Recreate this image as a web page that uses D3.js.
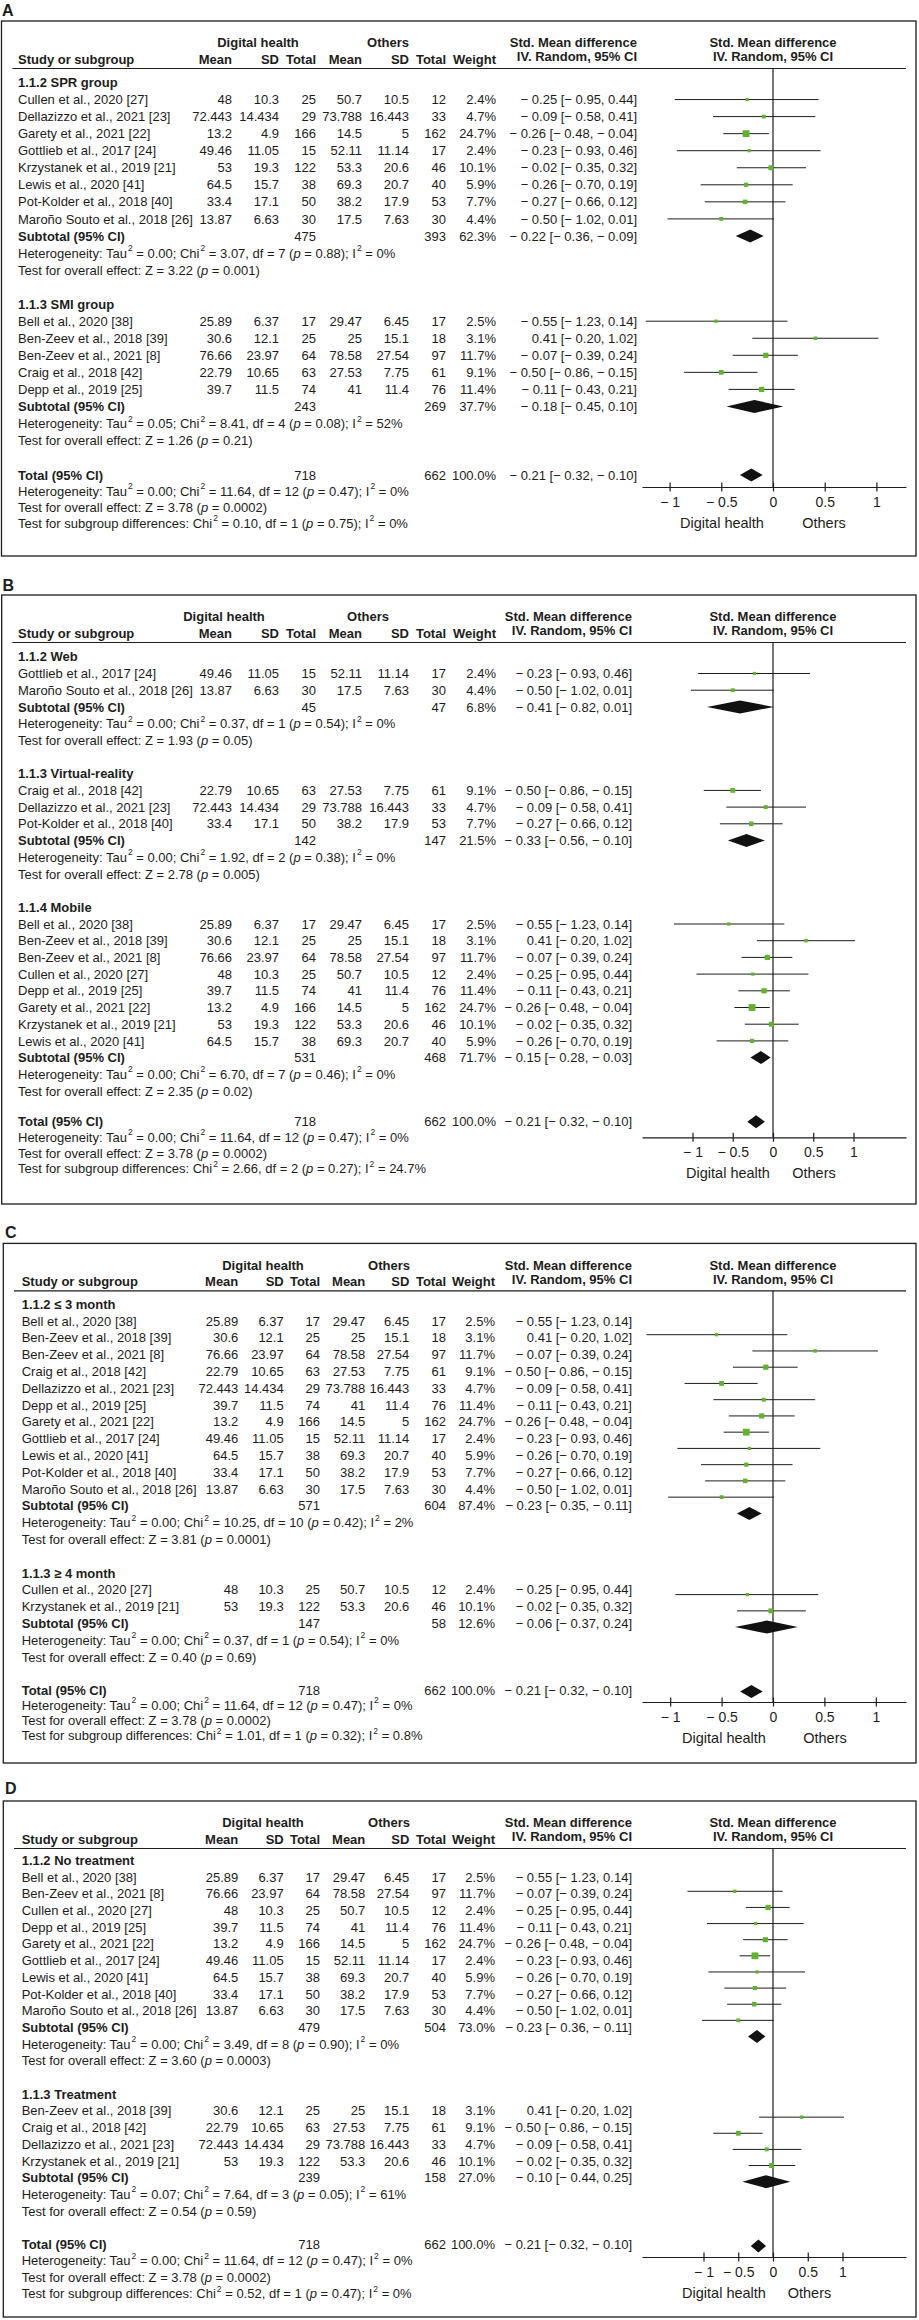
<!DOCTYPE html>
<html><head><meta charset="utf-8">
<script src="https://cdn.jsdelivr.net/npm/d3@7"></script>
<style>
body{margin:0;background:#fff}
svg{display:block}
text{font-family:"Liberation Sans",Arial,Helvetica,sans-serif;fill:#1d1d1b}
</style>
</head><body>
<svg id="chart" width="919" height="2320"></svg>
<script>
// ---------------- DATA ----------------
const studyNames = ["Bell et al., 2020 [38]","Ben-Zeev et al., 2018 [39]","Ben-Zeev et al., 2021 [8]","Craig et al., 2018 [42]","Cullen et al., 2020 [27]","Dellazizzo et al., 2021 [23]","Depp et al., 2019 [25]","Garety et al., 2021 [22]","Gottlieb et al., 2017 [24]","Krzystanek et al., 2019 [21]","Lewis et al., 2020 [41]","Pot-Kolder et al., 2018 [40]","Maroño Souto et al., 2018 [26]"];
const dhMean  = [25.89, 30.6, 76.66, 22.79, 48, 72.443, 39.7, 13.2, 49.46, 53, 64.5, 33.4, 13.87];
const dhSD    = [6.37, 12.1, 23.97, 10.65, 10.3, 14.434, 11.5, 4.9, 11.05, 19.3, 15.7, 17.1, 6.63];
const dhTotal = [17, 25, 64, 63, 25, 29, 74, 166, 15, 122, 38, 50, 30];
const otMean  = [29.47, 25, 78.58, 27.53, 50.7, 73.788, 41, 14.5, 52.11, 53.3, 69.3, 38.2, 17.5];
const otSD    = [6.45, 15.1, 27.54, 7.75, 10.5, 16.443, 11.4, 5, 11.14, 20.6, 20.7, 17.9, 7.63];
const otTotal = [17, 18, 97, 61, 12, 33, 76, 162, 17, 46, 40, 53, 30];
const studyWeight = [2.5, 3.1, 11.7, 9.1, 2.4, 4.7, 11.4, 24.7, 2.4, 10.1, 5.9, 7.7, 4.4];
const studySMD  = [-0.55, 0.41, -0.07, -0.50, -0.25, -0.09, -0.11, -0.26, -0.23, -0.02, -0.26, -0.27, -0.50];
const studyLow  = [-1.23, -0.20, -0.39, -0.86, -0.95, -0.58, -0.43, -0.48, -0.93, -0.35, -0.70, -0.66, -1.02];
const studyHigh = [0.14, 1.02, 0.24, -0.15, 0.44, 0.41, 0.21, -0.04, 0.46, 0.32, 0.19, 0.12, 0.01];

const panelLetters = ["A","B","C","D"];
const subgroupTitles = [["1.1.2 SPR group","1.1.3 SMI group"],["1.1.2 Web","1.1.3 Virtual-reality","1.1.4 Mobile"],["1.1.2 \u2264 3 month","1.1.3 \u2265 4 month"],["1.1.2 No treatment","1.1.3 Treatment"]];
const subgroupStudies = [[[4,5,7,8,9,10,11,12],[0,1,2,3,6]],[[8,12],[3,5,11],[0,1,2,4,6,7,9,10]],[[0,1,2,3,5,6,7,8,10,11,12],[4,9]],[[0,2,4,6,7,8,10,11,12],[1,3,5,9]]];
const subgroupDhTotal = [[475,243],[45,142,531],[571,147],[479,239]];
const subgroupOtTotal = [[393,269],[47,147,468],[604,58],[504,158]];
const subgroupWeight = [[62.3,37.7],[6.8,21.5,71.7],[87.4,12.6],[73.0,27.0]];
const subgroupSMD  = [[-0.22,-0.18],[-0.41,-0.33,-0.15],[-0.23,-0.06],[-0.23,-0.10]];
const subgroupLow  = [[-0.36,-0.45],[-0.82,-0.56,-0.28],[-0.35,-0.37],[-0.36,-0.44]];
const subgroupHigh = [[-0.09,0.10],[0.01,-0.10,-0.03],[-0.11,0.24],[-0.11,0.25]];
const subgroupTau2 = [[0.00,0.05],[0.00,0.00,0.00],[0.00,0.00],[0.00,0.07]];
const subgroupChi2 = [[3.07,8.41],[0.37,1.92,6.70],[10.25,0.37],[3.49,7.64]];
const subgroupDf   = [[7,4],[1,2,7],[10,1],[8,3]];
const subgroupHetP = [[0.88,0.08],[0.54,0.38,0.46],[0.42,0.54],[0.90,0.05]];
const subgroupI2   = [[0,52],[0,0,0],[2,0],[0,61]];
const subgroupZ    = [[3.22,1.26],[1.93,2.78,2.35],[3.81,0.40],[3.60,0.54]];
const subgroupZP   = [[0.001,0.21],[0.05,0.005,0.02],[0.0001,0.69],[0.0003,0.59]];

const overallDh = 718, overallOt = 662, overallWeight = 100.0;
const overallSMD = -0.21, overallLow = -0.32, overallHigh = -0.10;
const overallTau2 = 0.00, overallChi2 = 11.64, overallDf = 12, overallHetP = 0.47, overallI2 = 0;
const overallZ = 3.78, overallZP = 0.0002;
const diffChi2 = [0.10, 2.66, 1.01, 0.52];
const diffDf   = [1, 2, 1, 1];
const diffP    = [0.75, 0.27, 0.32, 0.47];
const diffI2   = [0, 24.7, 0.8, 0];

const tickValues = [-1, -0.5, 0, 0.5, 1];
const tickLabels = ["\u2212 1", "\u2212 0.5", "0", "0.5", "1"];
const axisSideLabels = ["Digital health", "Others"];

// ---------------- LAYOUT ----------------
const colsAB = [232, 279, 316, 362, 409, 446, 496];
const colsCD = [238.3, 283.7, 320, 365.3, 409.3, 446, 495];
const layout = [
  {top:21, bottom:556, labelX:2, labelY:10, boxLeft:1.5, lineLeft:12.3, studyX:18, cols:colsAB, dhC:258, otC:388, ciRight:637,
   first:82.5, step:17.05, totalY:475, step2:16, axisY:487, ppu:103.4, sideX:[722,824], drift:[0,0]},
  {top:595, bottom:1204, labelX:2.5, labelY:585, boxLeft:1.7, lineLeft:12.3, studyX:18, cols:colsAB, dhC:224, otC:368, ciRight:632,
   first:656.8, step:16.7, totalY:1121.7, step2:15.6, axisY:1137.3, ppu:80.5, sideX:[728,814], drift:[0,0]},
  {top:1243.4, bottom:1763, labelX:5, labelY:1232, boxLeft:3.3, lineLeft:14, studyX:21.7, cols:colsCD, dhC:263, otC:389, ciRight:632,
   first:1304.1, step:16.8, totalY:1690, step2:15.2, axisY:1702, ppu:102.8, sideX:[724,825], drift:[13.8,1.6]},
  {top:1801, bottom:2317, labelX:5, labelY:1788, boxLeft:3.3, lineLeft:14, studyX:21.7, cols:colsCD, dhC:263, otC:389, ciRight:632,
   first:1860.3, step:16.7, totalY:2244.2, step2:16.4, axisY:2257, ppu:69.5, sideX:[724,809.5], drift:[14.3,1.8]}
];
const ZERO_X = 773, AXIS_L = 642, AXIS_R = 906, BOX_R = 916;
const INK = "#1d1d1b", GREEN = "#62b22f";
const BASE = 4.6; // center -> baseline

const svg = d3.select("#chart");
const sizeScale = d3.scalePow().exponent(0.5).domain([0, 25]).range([1.6, 6.85]);

function fmtSigned(v){ return v < 0 ? "\u2212 " + Math.abs(v).toFixed(2) : v.toFixed(2); }
function ciText(m, l, h){ return `${fmtSigned(m)} [${fmtSigned(l)}, ${fmtSigned(h)}]`; }

function richText(parent, x, y, segs){
  const t = parent.append("text").attr("x", x).attr("y", y + BASE).attr("font-size", 13).style("white-space", "pre");
  let raised = false;
  segs.forEach(s => {
    const ts = t.append("tspan");
    if (s.sup){ ts.text(s.sup).attr("font-size", 8.5).attr("dy", -6.5).attr("dx", 1); raised = true; }
    else {
      ts.text(s.t !== undefined ? s.t : s.it);
      if (s.it) ts.attr("font-style", "italic");
      if (raised){ ts.attr("dy", 6.5); raised = false; }
    }
  });
  return t;
}
function hetSegs(tau2, chi2, df, p, i2){
  return [{t:"Heterogeneity: Tau"},{sup:"2"},{t:` = ${tau2.toFixed(2)}; Chi`},{sup:"2"},{t:` = ${chi2.toFixed(2)}, df = ${df} (`},{it:"p"},{t:` = ${p.toFixed(2)}); I`},{sup:"2"},{t:` = ${i2}%`}];
}
function testSegs(z, p){
  return [{t:`Test for overall effect: Z = ${z.toFixed(2)} (`},{it:"p"},{t:` = ${String(p)})`}];
}
function diffSegs(chi, df, p, i2){
  return [{t:"Test for subgroup differences: Chi"},{sup:"2"},{t:` = ${chi.toFixed(2)}, df = ${df} (`},{it:"p"},{t:` = ${p.toFixed(2)}); I`},{sup:"2"},{t:` = ${i2}%`}];
}
function plain(parent, x, y, str, anchor, bold){
  return parent.append("text").attr("x", x).attr("y", y + BASE).attr("font-size", 13)
    .attr("text-anchor", anchor || "start").attr("font-weight", bold ? "bold" : null).text(str);
}

layout.forEach((L, p) => {
  const g = svg.append("g");
  // panel letter and frame
  g.append("text").attr("x", L.labelX).attr("y", L.labelY + 6).attr("font-size", 16).attr("font-weight", "bold").text(panelLetters[p]);
  g.append("rect").attr("x", L.boxLeft).attr("y", L.top).attr("width", BOX_R - L.boxLeft).attr("height", L.bottom - L.top)
    .attr("fill", "none").attr("stroke", INK).attr("stroke-width", 1.3);

  const h1 = L.top + 21.5, h2 = L.top + 38, hl = L.top + 47.5;
  plain(g, L.dhC, h1, "Digital health", "middle", true);
  plain(g, L.otC, h1, "Others", "middle", true);
  plain(g, L.studyX, h2, "Study or subgroup", "start", true);
  ["Mean","SD","Total","Mean","SD","Total","Weight"].forEach((h, i) => plain(g, L.cols[i], h2, h, "end", true));
  plain(g, L.ciRight, h1, "Std. Mean difference", "end", true);
  plain(g, L.ciRight, h1 + 14, "IV. Random, 95% CI", "end", true);
  plain(g, ZERO_X, h1, "Std. Mean difference", "middle", true);
  plain(g, ZERO_X, h1 + 14, "IV. Random, 95% CI", "middle", true);
  g.append("line").attr("x1", L.lineLeft).attr("x2", AXIS_R).attr("y1", hl).attr("y2", hl).attr("stroke", INK).attr("stroke-width", 1.2);

  // scales
  const x = d3.scaleLinear().domain([(AXIS_L - ZERO_X) / L.ppu, (AXIS_R - ZERO_X) / L.ppu]).range([AXIS_L, AXIS_R]);
  const rowY = i => L.first + i * L.step;
  const plotY = d3.scaleLinear().domain([rowY(1), L.totalY]).range([rowY(1) + L.drift[0], L.totalY + L.drift[1]]);

  // zero line
  g.append("line").attr("x1", x(0)).attr("x2", x(0)).attr("y1", hl).attr("y2", L.axisY).attr("stroke", INK).attr("stroke-width", 1.2);

  const marks = g.append("g");
  function diamond(yc, m, lo, hi){
    const h = 6.5;
    marks.append("path").attr("d", `M${x(lo)},${yc}L${x(m)},${yc - h}L${x(hi)},${yc}L${x(m)},${yc + h}Z`).attr("fill", "#111");
  }

  let r = 0;
  subgroupTitles[p].forEach((title, gi) => {
    plain(g, L.studyX, rowY(r), title, "start", true); r++;
    subgroupStudies[p][gi].forEach(s => {
      const y = rowY(r);
      plain(g, L.studyX, y, studyNames[s]);
      [dhMean[s], dhSD[s], dhTotal[s], otMean[s], otSD[s], otTotal[s]].forEach((v, i) => plain(g, L.cols[i], y, String(v), "end"));
      plain(g, L.cols[6], y, studyWeight[s].toFixed(1) + "%", "end");
      plain(g, L.ciRight, y, ciText(studySMD[s], studyLow[s], studyHigh[s]), "end");
      const py = plotY(y);
      marks.append("line").attr("x1", x(studyLow[s])).attr("x2", x(studyHigh[s])).attr("y1", py).attr("y2", py).attr("stroke", INK).attr("stroke-width", 1);
      const sz = sizeScale(studyWeight[s]);
      marks.append("rect").attr("x", x(studySMD[s]) - sz / 2).attr("y", py - sz / 2).attr("width", sz).attr("height", sz).attr("fill", GREEN);
      r++;
    });
    const ys = rowY(r);
    plain(g, L.studyX, ys, "Subtotal (95% CI)", "start", true);
    plain(g, L.cols[2], ys, String(subgroupDhTotal[p][gi]), "end");
    plain(g, L.cols[5], ys, String(subgroupOtTotal[p][gi]), "end");
    plain(g, L.cols[6], ys, subgroupWeight[p][gi].toFixed(1) + "%", "end");
    plain(g, L.ciRight, ys, ciText(subgroupSMD[p][gi], subgroupLow[p][gi], subgroupHigh[p][gi]), "end");
    diamond(plotY(ys), subgroupSMD[p][gi], subgroupLow[p][gi], subgroupHigh[p][gi]);
    r++;
    richText(g, L.studyX, rowY(r), hetSegs(subgroupTau2[p][gi], subgroupChi2[p][gi], subgroupDf[p][gi], subgroupHetP[p][gi], subgroupI2[p][gi])); r++;
    richText(g, L.studyX, rowY(r), testSegs(subgroupZ[p][gi], subgroupZP[p][gi])); r++;
    r++; // blank row
  });

  // overall block
  const ty = L.totalY;
  plain(g, L.studyX, ty, "Total (95% CI)", "start", true);
  plain(g, L.cols[2], ty, String(overallDh), "end");
  plain(g, L.cols[5], ty, String(overallOt), "end");
  plain(g, L.cols[6], ty, overallWeight.toFixed(1) + "%", "end");
  plain(g, L.ciRight, ty, ciText(overallSMD, overallLow, overallHigh), "end");
  diamond(plotY(ty), overallSMD, overallLow, overallHigh);
  richText(g, L.studyX, ty + L.step2, hetSegs(overallTau2, overallChi2, overallDf, overallHetP, overallI2));
  richText(g, L.studyX, ty + 2 * L.step2, testSegs(overallZ, overallZP));
  richText(g, L.studyX, ty + 3 * L.step2, diffSegs(diffChi2[p], diffDf[p], diffP[p], diffI2[p]));

  // axis
  const axis = d3.axisBottom(x).tickValues(tickValues).tickFormat((d, i) => tickLabels[i]).tickSizeInner(4.5).tickSizeOuter(0);
  const ag = g.append("g").attr("transform", `translate(0,${L.axisY})`).call(axis);
  ag.attr("font-family", null).attr("font-size", null);
  ag.select(".domain").attr("stroke", INK).attr("stroke-width", 1.2);
  ag.selectAll(".tick line").attr("y1", -4.5).attr("y2", 4.5).attr("stroke", INK).attr("stroke-width", 1.2);
  ag.selectAll(".tick text").attr("y", 20).attr("dy", null).attr("font-size", 14).attr("fill", INK);
  axisSideLabels.forEach((lab, i) => {
    g.append("text").attr("x", L.sideX[i]).attr("y", L.axisY + 41).attr("font-size", 14.5).attr("text-anchor", "middle").text(lab);
  });
});
</script>
</body></html>
